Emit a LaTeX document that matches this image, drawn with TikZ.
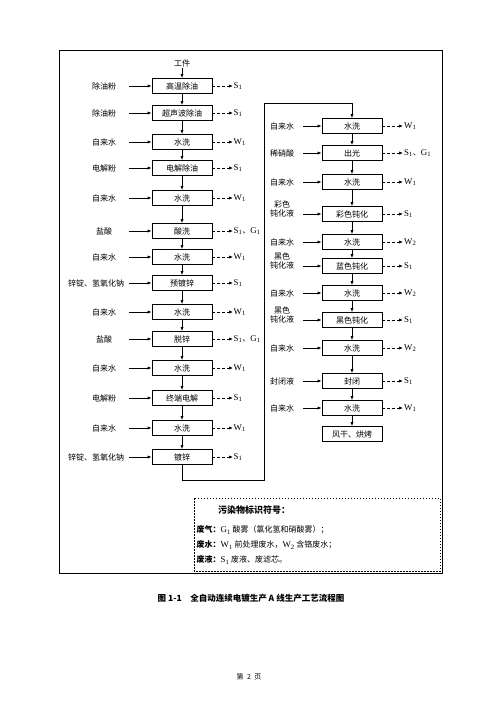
\documentclass[tikz,border=0pt]{standalone}
\usepackage{fontspec}
\setmainfont{Noto Sans CJK SC}
\newfontfamily\latinfont[Scale=1.1]{Liberation Serif}
\usepackage{tikz}
\usetikzlibrary{arrows.meta}
\tikzset{proc/.style={draw, line width=0.8pt, minimum width=60pt, minimum height=15pt, inner sep=1pt, font=\fontsize{8}{9.6}\selectfont}}
\tikzset{lbl/.style={inner sep=1.5pt, font=\fontsize{8}{9.6}\selectfont, align=center}}
\tikzset{feed/.style={line width=0.7pt, -{Latex[length=4pt, width=3.2pt]}}}
\tikzset{waste/.style={line width=0.7pt, dash pattern=on 3pt off 2pt, -{Latex[length=4pt, width=3.2pt]}}}
\newcommand{\pol}[2]{{\latinfont #1\textsubscript{#2}}}
% name, y, box text, feed, waste, feed label x
\newcommand{\leftstep}[6]{
  \node[proc] (#1) at (182,#2) {#3};
  \node[lbl] (#1f) at (#6,#2) {#4};
  \coordinate (#1s) at (129,#2);
  \draw[feed] (#1s) -- (#1.west);
  \node[lbl, anchor=west, inner sep=0.5pt] (#1w) at (233,#2) {#5};
  \draw[waste] (#1.east) -- (#1w.west);
}
% name, y, box text, feed, waste, feed label options
\newcommand{\rightstep}[6]{
  \node[proc] (#1) at (352,#2) {#3};
  \node[lbl, #6] (#1f) at (282,#2) {#4};
  \coordinate (#1s) at (303,#2);
  \draw[feed] (#1s) -- (#1.west);
  \node[lbl, anchor=west, inner sep=1pt] (#1w) at (403,#2) {#5};
  \draw[waste] (#1.east) -- (#1w.west);
}

\begin{document}
\begin{tikzpicture}[x=1pt, y=-1pt]
\useasboundingbox (0,0) rectangle (490,707);
\draw[line width=1pt] (59,50) rectangle (442,573);
% left column
\node[lbl] (work) at (182,63) {工件};
\leftstep{a1}{86}{高温除油}{除油粉}{\pol{S}{1}}{104}
\leftstep{a2}{113}{超声波除油}{除油粉}{\pol{S}{1}}{104}
\leftstep{a3}{142}{水洗}{自来水}{\pol{W}{1}}{104}
\leftstep{a4}{168}{电解除油}{电解粉}{\pol{S}{1}}{104}
\leftstep{a5}{198}{水洗}{自来水}{\pol{W}{1}}{104}
\leftstep{a6}{231}{酸洗}{盐酸}{\pol{S}{1}、\pol{G}{1}}{104}
\leftstep{a7}{257}{水洗}{自来水}{\pol{W}{1}}{104}
\leftstep{a8}{283}{预镀锌}{锌锭、氢氧化钠}{\pol{S}{1}}{96}
\leftstep{a9}{312}{水洗}{自来水}{\pol{W}{1}}{104}
\leftstep{a10}{339}{脱锌}{盐酸}{\pol{S}{1}、\pol{G}{1}}{104}
\leftstep{a11}{368}{水洗}{自来水}{\pol{W}{1}}{104}
\leftstep{a12}{398}{终端电解}{电解粉}{\pol{S}{1}}{104}
\leftstep{a13}{428}{水洗}{自来水}{\pol{W}{1}}{104}
\leftstep{a14}{457}{镀锌}{锌锭、氢氧化钠}{\pol{S}{1}}{96}
\draw[feed] (work.south) -- (a1.north);
\foreach \u/\v in {a1/a2, a2/a3, a3/a4, a4/a5, a5/a6, a6/a7, a7/a8, a8/a9, a9/a10, a10/a11, a11/a12, a12/a13, a13/a14}
  \draw[feed] (\u.south) -- (\v.north);
% right column
\rightstep{b1}{126}{水洗}{自来水}{\pol{W}{1}}{}
\rightstep{b2}{153}{出光}{稀硝酸}{\pol{S}{1}、\pol{G}{1}}{}
\rightstep{b3}{182}{水洗}{自来水}{\pol{W}{1}}{}
\rightstep{b4}{214}{彩色钝化}{彩色\\钝化液}{\pol{S}{1}}{yshift=5pt}
\rightstep{b5}{242}{水洗}{自来水}{\pol{W}{2}}{}
\rightstep{b6}{266}{蓝色钝化}{黑色\\钝化液}{\pol{S}{1}}{yshift=5pt}
\rightstep{b7}{293}{水洗}{自来水}{\pol{W}{2}}{}
\rightstep{b8}{320}{黑色钝化}{黑色\\钝化液}{\pol{S}{1}}{yshift=5pt}
\rightstep{b9}{348}{水洗}{自来水}{\pol{W}{2}}{}
\rightstep{b10}{381}{封闭}{封闭液}{\pol{S}{1}}{}
\rightstep{b11}{408}{水洗}{自来水}{\pol{W}{1}}{}
\node[proc] (b12) at (352,434) {风干、烘烤};
\foreach \u/\v in {b1/b2, b2/b3, b3/b4, b4/b5, b5/b6, b6/b7, b7/b8, b8/b9, b9/b10, b10/b11, b11/b12}
  \draw[feed] (\u.south) -- (\v.north);
% link between the columns
\coordinate (turn1) at (264,480);
\coordinate (turn2) at (264,103);
\draw[feed] (a14.south) |- (turn1) -- (turn2) -| (b1.north);
% legend
\draw[line width=0.8pt, dash pattern=on 1.5pt off 1.5pt] (194,498) rectangle (440,571);
\node[lbl, font=\fontsize{9}{10}\selectfont\bfseries] (legtitle) at (254,510) {污染物标识符号：};
\node[lbl, anchor=west] (leggas) at (195,530) {\textbf{废气：}\pol{G}{1} 酸雾（氯化氢和硝酸雾）；};
\node[lbl, anchor=west] (legwater) at (195,545) {\textbf{废水：}\pol{W}{1} 前处理废水，\pol{W}{2} 含铬废水；};
\node[lbl, anchor=west] (legliquid) at (195,560) {\textbf{废液：}\pol{S}{1} 废液、废滤芯。};
% caption and page
\node[lbl, font=\fontsize{8.5}{10}\selectfont\bfseries] (caption) at (251,598) {图 1-1\quad 全自动连续电镀生产 A 线生产工艺流程图};
\node[lbl, font=\fontsize{7}{8}\selectfont] (page) at (249,677) {第\enspace 2\enspace 页};
\end{tikzpicture}
\end{document}
